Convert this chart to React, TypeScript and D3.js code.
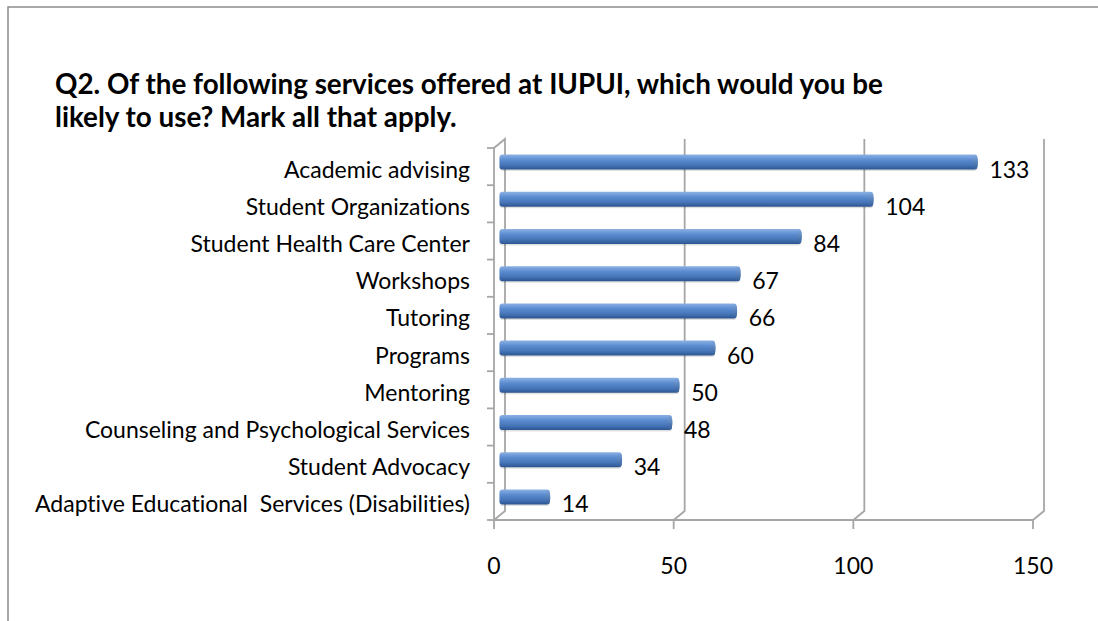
import React, { useEffect } from 'react'
import * as d3 from 'd3'

// 选项及人数（自上而下）
const categories = [
    'Academic advising',
    'Student Organizations',
    'Student Health Care Center',
    'Workshops',
    'Tutoring',
    'Programs',
    'Mentoring',
    'Counseling and Psychological Services',
    'Student Advocacy',
    'Adaptive Educational  Services (Disabilities)',
]
const counts = [133, 104, 84, 67, 66, 60, 50, 48, 34, 14]
const xTicks = [0, 50, 100, 150]
const titleLines = [
    'Q2. Of the following services offered at IUPUI, which would you be',
    'likely to use? Mark all that apply.',
]

const W = 1098
const H = 621
// 3D 偏移（前 -> 后）
const DX = 11
const DY = -9

const App = () => {
    useEffect(() => {
        document.body.style.margin = '0'
    }, [])

    const x = d3.scaleLinear().domain([0, 150]).range([494, 1033])
    const y = d3.scaleBand<string>().domain(categories).range([148, 520]).paddingInner(0)
    const step = y.step()
    const barH = 15
    const floorY = 520
    const topY = 148

    const font = "Lato, 'Open Sans', sans-serif"
    const textStyle = { whiteSpace: 'pre' as const, fontVariantLigatures: 'none' as const }

    return (
        <svg width={W} height={H} style={{ display: 'block', background: '#fff' }}>
            <defs>
                <linearGradient id="barGrad" x1="0" y1="0" x2="0" y2="1">
                    <stop offset="0" stopColor="#8db1e4" />
                    <stop offset="0.35" stopColor="#5b8cd0" />
                    <stop offset="0.7" stopColor="#4675b8" />
                    <stop offset="1" stopColor="#2c5590" />
                </linearGradient>
                <linearGradient id="capGrad" x1="0" y1="0" x2="0" y2="1">
                    <stop offset="0" stopColor="#7ea6dd" />
                    <stop offset="1" stopColor="#345f9c" />
                </linearGradient>
            </defs>

            {/* 外框 */}
            <path d={`M8,${H} L8,7 L${W},7`} fill="none" stroke="#8c8c8c" strokeWidth={1.5} />

            {/* 标题 */}
            {titleLines.map((t, i) => (
                <text key={i} x={55} y={94 + i * 33} fontFamily={font} fontWeight="bold"
                    fontSize={27.8} fill="#000" style={textStyle}>{t}</text>
            ))}

            {/* 左侧墙 */}
            <g stroke="#a6a6a6" strokeWidth={1.8} fill="none">
                <path d={`M${x(0)},${floorY + 9} L${x(0)},${topY} L${x(0) + DX},${topY + DY} L${x(0) + DX},${floorY + DY} L${x(0)},${floorY}`} />
                {d3.range(categories.length + 1).map(i => (
                    <line key={i} x1={x(0) - 7} x2={x(0)} y1={topY + i * step} y2={topY + i * step} />
                ))}
            </g>

            {/* 背景网格线与底面 */}
            <g stroke="#a6a6a6" strokeWidth={1.8} fill="none">
                {xTicks.filter(v => v > 0).map(v => (
                    <path key={v} d={`M${x(v) + DX},${topY + DY} L${x(v) + DX},${floorY + DY} L${x(v)},${floorY} L${x(v)},${floorY + 9}`} />
                ))}
                <line x1={x(0)} x2={x(150)} y1={floorY} y2={floorY} />
            </g>

            {/* 条形 */}
            {categories.map((c, i) => {
                const cy = (y(c) ?? 0) + step / 2 + DY / 2
                const x0 = x(0) + DX / 2
                const x1 = x(counts[i]) + DX / 2
                return (
                    <g key={c}>
                        <rect x={x0} y={cy - barH / 2 + 1.5} width={x1 - x0} height={barH} rx={3}
                            fill="#000" opacity={0.12} />
                        <rect x={x0} y={cy - barH / 2} width={x1 - x0} height={barH} rx={3}
                            fill="url(#barGrad)" />
                        <ellipse cx={x1 - 2} cy={cy} rx={2.5} ry={barH / 2 - 0.5} fill="url(#capGrad)" />
                    </g>
                )
            })}

            {/* 数值标签 */}
            {categories.map((c, i) => (
                <text key={c} x={x(counts[i]) + DX / 2 + 12} y={(y(c) ?? 0) + step / 2 + 2}
                    dominantBaseline="central" fontFamily={font} fontSize={23} fill="#000">
                    {counts[i]}
                </text>
            ))}

            {/* 类别标签 */}
            {categories.map(c => (
                <text key={c} x={470} y={(y(c) ?? 0) + step / 2 + 2} textAnchor="end"
                    dominantBaseline="central" fontFamily={font} fontSize={23} fill="#000"
                    style={textStyle}>
                    {c}
                </text>
            ))}

            {/* X 轴刻度标签 */}
            {xTicks.map(v => (
                <text key={v} x={x(v)} y={565} textAnchor="middle" dominantBaseline="central"
                    fontFamily={font} fontSize={23} fill="#000">{v}</text>
            ))}
        </svg>
    )
}

export default App
